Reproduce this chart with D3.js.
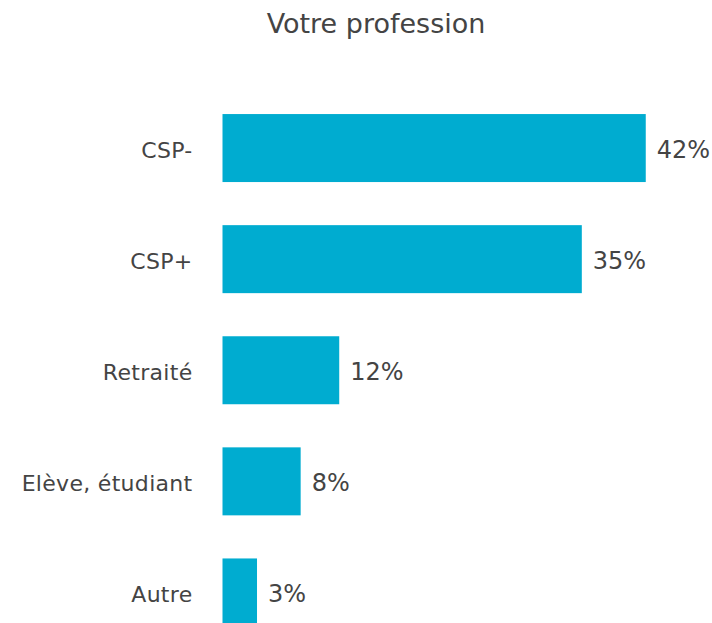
<!DOCTYPE html>
<html>
<head>
<meta charset="utf-8">
<script src="https://cdn.jsdelivr.net/npm/d3@7"></script>
<style>
	html, body { margin: 0; padding: 0; background: #fff; }
	svg { display: block; font-family: 'Century Gothic', 'DejaVu Sans', sans-serif; }
</style>
</head>
<body>
<div id="chart"></div>
<script>
var TITLE = 'Votre profession';
var categories = ['CSP-', 'CSP+', 'Retraité', 'Elève, étudiant', 'Autre'];
var values = [41.7, 35.4, 11.5, 7.7, 3.4];

var width = 712, height = 623;
var BAR_COLOR = '#00acd0';
var TEXT_COLOR = '#444444';

var svg = d3.select('#chart').append('svg')
	.attr('width', width)
	.attr('height', height)

//title
svg.append('text')
	.attr('x', 376)
	.attr('y', 33)
	.attr('text-anchor', 'middle')
	.style('font-size', '27px')
	.style('fill', TEXT_COLOR)
	.text(TITLE)

var xScale = d3.scaleLinear()
	.domain([0, 45])
	.range([222.5, 222.5 + 45 * 10.15])

var yScale = d3.scaleBand()
	.domain(categories)
	.range([92.5, 648])
	.paddingInner(0.388)
	.paddingOuter(0.194)

var rows = categories.map((c, i) => ({cat: c, value: values[i]}))

//bars
svg.append('g')
	.selectAll('rect')
	.data(rows)
	.enter().append('rect')
		.attr('x', xScale(0))
		.attr('y', d => yScale(d.cat))
		.attr('width', d => xScale(d.value) - xScale(0))
		.attr('height', yScale.bandwidth())
		.style('fill', BAR_COLOR)

//category axis, no line or ticks
var yAxis = svg.append('g')
	.attr('transform', 'translate(' + (xScale(0) - 30) + ',0)')
	.call(d3.axisLeft(yScale).tickSize(0).tickPadding(0))
yAxis.attr('font-family', null)
yAxis.select('.domain').remove()
yAxis.selectAll('text')
	.attr('dy', '0.45em')
	.style('font-size', '22px')
	.style('letter-spacing', '0.3px')
	.style('fill', TEXT_COLOR)

//value labels, rounded to whole percent
var fmt = d3.format('.0f')
svg.append('g')
	.selectAll('text')
	.data(rows)
	.enter().append('text')
		.attr('x', d => xScale(d.value) + 11)
		.attr('y', d => yScale(d.cat) + yScale.bandwidth() / 2)
		.attr('dy', '0.4em')
		.style('font-size', '24px')
		.style('fill', TEXT_COLOR)
		.text(d => fmt(d.value) + '%')
</script>
</body>
</html>
